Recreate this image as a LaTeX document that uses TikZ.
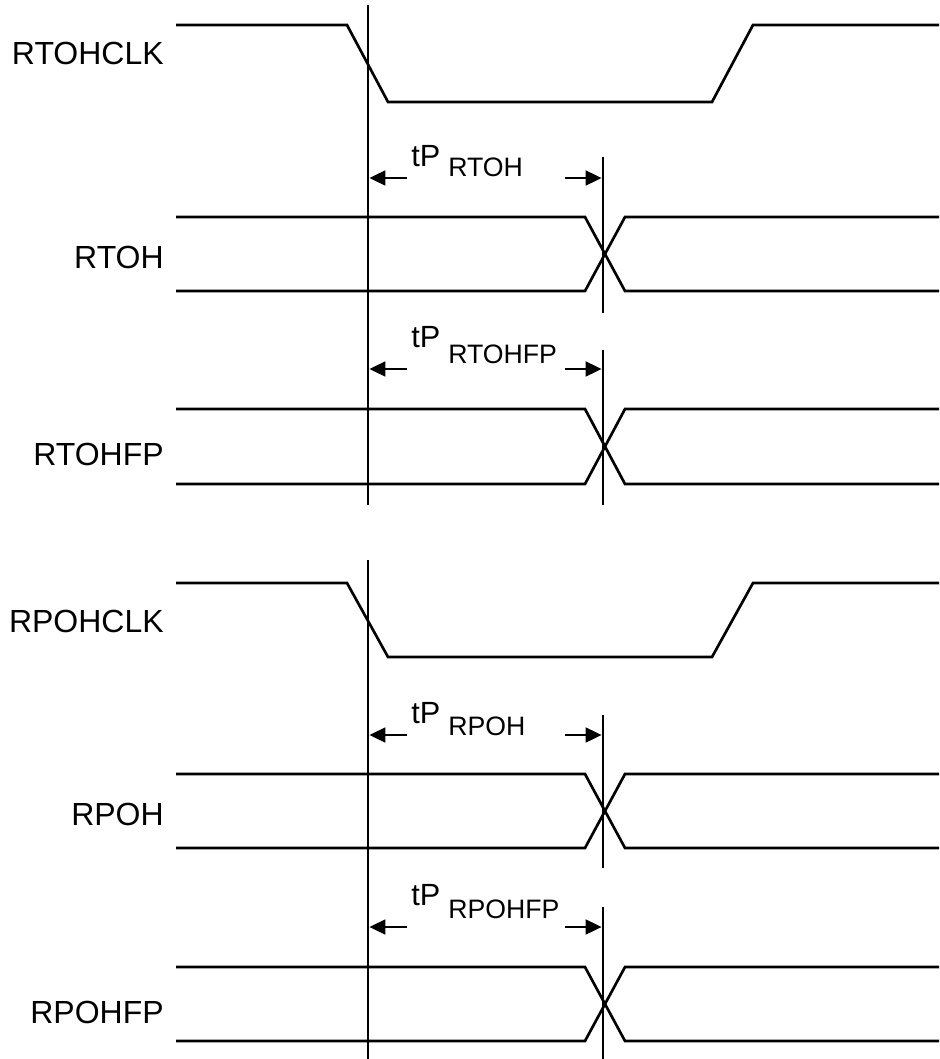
\documentclass[tikz,border=0pt]{standalone}
\usepackage{fontspec}
\setmainfont{Liberation Sans}
\usetikzlibrary{arrows.meta,positioning}

\begin{document}
\begin{tikzpicture}%
  [x=0.75pt,y=-0.75pt,
   signal/.style=
    {line width=2pt,line join=miter},
   marker/.style=
    {line width=2pt},
   signame/.style=
    {anchor=base east,inner sep=0pt,font=\fontsize{24}{24}\selectfont},
   delayname/.style=
    {anchor=base west,inner sep=0pt,font=\fontsize{23}{23}\selectfont},
   delaysub/.style=
    {anchor=base west,inner sep=0pt,font=\fontsize{20}{20}\selectfont},
   delay/.style={line width=2pt,-{Triangle[length=12pt,width=11pt]}}
  ]
  \useasboundingbox (0,0) rectangle (939,1059);
  % reference edges
  \coordinate (clkedge) at (368,0);
  \coordinate (outedge) at (603,0);
  % signal names
  \node[signame] (rtohclk) at (164,65) {RTOHCLK};
  \node[signame] (rtoh) at (164,268) {RTOH};
  \node[signame] (rtohfp) at (164,465) {RTOHFP};
  \node[signame] (rpohclk) at (164,632) {RPOHCLK};
  \node[signame] (rpoh) at (164,825) {RPOH};
  \node[signame] (rpohfp) at (164,1023) {RPOHFP};
  % clocks
  \draw[signal] (176,25) -- (347,25) -- (388,102) -- (712,102) -- (753,25) -- (939,25);
  \draw[signal] (176,583) -- (347,583) -- (388,657) -- (712,657) -- (753,583) -- (939,583);
  % outputs
  \draw[signal] (176,217) -- (585,217) -- (625,291) -- (939,291);
  \draw[signal] (176,291) -- (585,291) -- (625,217) -- (939,217);
  \draw[signal] (176,409) -- (585,409) -- (625,484) -- (939,484);
  \draw[signal] (176,484) -- (585,484) -- (625,409) -- (939,409);
  \draw[signal] (176,774) -- (585,774) -- (625,848) -- (939,848);
  \draw[signal] (176,848) -- (585,848) -- (625,774) -- (939,774);
  \draw[signal] (176,967) -- (585,967) -- (625,1041) -- (939,1041);
  \draw[signal] (176,1041) -- (585,1041) -- (625,967) -- (939,967);
  % edge markers
  \draw[marker] (clkedge |- 0,5) -- (clkedge |- 0,505);
  \draw[marker] (clkedge |- 0,560) -- (clkedge |- 0,1059);
  \draw[marker] (outedge |- 0,157) -- (outedge |- 0,313);
  \draw[marker] (outedge |- 0,350) -- (outedge |- 0,505);
  \draw[marker] (outedge |- 0,715) -- (outedge |- 0,868);
  \draw[marker] (outedge |- 0,907) -- (outedge |- 0,1059);
  % propagation delays
  \node[delayname] (tp1) at (411,167) {tP};
  \node[delaysub] (tp1s) at (448,177) {RTOH};
  \draw[delay] (407,178) -- ([xshift=1pt]clkedge |- 0,178);
  \draw[delay] (565,178) -- ([xshift=-1pt]outedge |- 0,178);
  \node[delayname] (tp2) at (411,347) {tP};
  \node[delaysub] (tp2s) at (448,363) {RTOHFP};
  \draw[delay] (407,369) -- ([xshift=1pt]clkedge |- 0,369);
  \draw[delay] (565,369) -- ([xshift=-1pt]outedge |- 0,369);
  \node[delayname] (tp3) at (411,723) {tP};
  \node[delaysub] (tp3s) at (448,735) {RPOH};
  \draw[delay] (407,735) -- ([xshift=1pt]clkedge |- 0,735);
  \draw[delay] (565,735) -- ([xshift=-1pt]outedge |- 0,735);
  \node[delayname] (tp4) at (411,905) {tP};
  \node[delaysub] (tp4s) at (448,918) {RPOHFP};
  \draw[delay] (407,927) -- ([xshift=1pt]clkedge |- 0,927);
  \draw[delay] (565,927) -- ([xshift=-1pt]outedge |- 0,927);
\end{tikzpicture}
\end{document}
